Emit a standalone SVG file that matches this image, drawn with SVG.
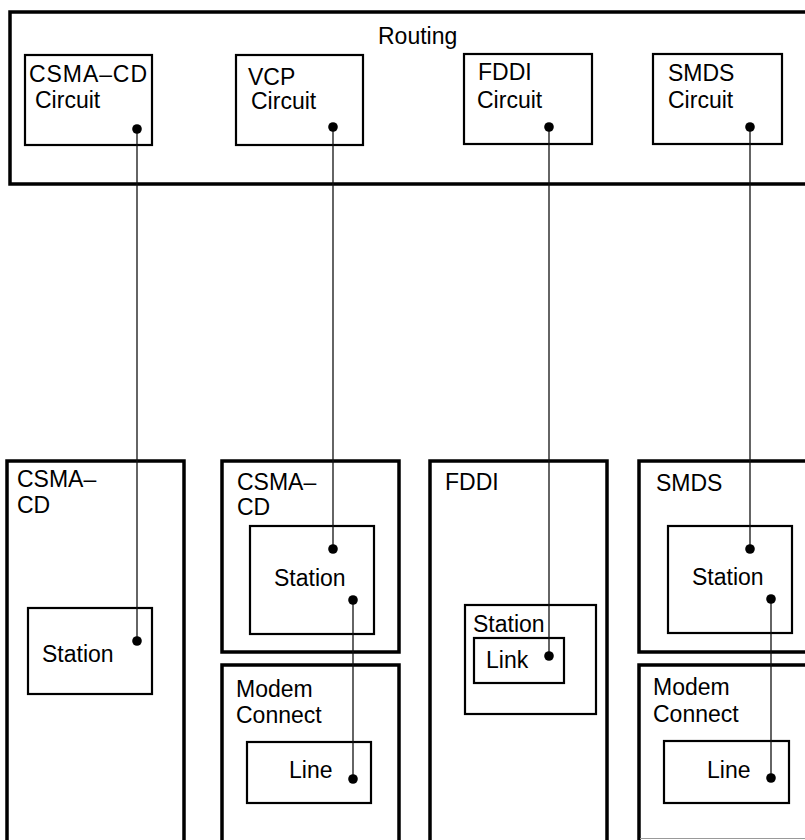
<svg xmlns="http://www.w3.org/2000/svg" width="805" height="840" viewBox="0 0 805 840">
<style>
text{font-family:"Liberation Sans",Arial,sans-serif;font-size:23px;fill:#000}
.outer{fill:none;stroke:#000;stroke-width:3.5}
.inner{fill:none;stroke:#000;stroke-width:2.2}
.wire{fill:none;stroke:#111;stroke-width:1.3}
.dot{fill:#000}
</style>
<rect width="805" height="840" fill="#fff"/>
<g id="routing">
<rect class="outer" x="10" y="12" width="810" height="172"/>
<text x="378" y="44">Routing</text>
</g>
<g id="csmacd-circuit">
<rect class="inner" x="25" y="55" width="127" height="90"/>
<text x="29" y="82" textLength="118" lengthAdjust="spacing">CSMA–CD</text>
<text x="35" y="108">Circuit</text>
</g>
<g id="vcp-circuit">
<rect class="inner" x="236" y="55" width="127" height="90"/>
<text x="248" y="85">VCP</text>
<text x="251" y="109">Circuit</text>
</g>
<g id="fddi-circuit">
<rect class="inner" x="464" y="54" width="128" height="90"/>
<text x="478" y="80">FDDI</text>
<text x="477" y="108">Circuit</text>
</g>
<g id="smds-circuit">
<rect class="inner" x="653" y="54" width="129" height="90"/>
<text x="668" y="81">SMDS</text>
<text x="668" y="108">Circuit</text>
</g>
<g id="csmacd-col">
<rect class="outer" x="7" y="461" width="177" height="400"/>
<text x="17" y="487">CSMA–</text>
<text x="17" y="513">CD</text>
</g>
<g id="csmacd-station">
<rect class="inner" x="28" y="608" width="124" height="86"/>
<text x="42" y="662">Station</text>
</g>
<g id="vcp-csmacd">
<rect class="outer" x="222" y="461" width="177" height="191"/>
<text x="237" y="490">CSMA–</text>
<text x="237" y="515">CD</text>
</g>
<g id="vcp-station">
<rect class="inner" x="250" y="526" width="124" height="108"/>
<text x="274" y="586">Station</text>
</g>
<g id="vcp-modem">
<rect class="outer" x="222" y="665" width="177" height="200"/>
<text x="236" y="697">Modem</text>
<text x="236" y="723">Connect</text>
</g>
<g id="vcp-line">
<rect class="inner" x="247" y="742" width="124" height="61"/>
<text x="289" y="778">Line</text>
</g>
<g id="fddi-col">
<rect class="outer" x="430" y="461" width="177" height="400"/>
<text x="445" y="490">FDDI</text>
</g>
<g id="fddi-station">
<rect class="inner" x="465" y="605" width="131" height="109"/>
<text x="473" y="632">Station</text>
</g>
<g id="fddi-link">
<rect class="inner" x="474" y="638" width="90" height="45"/>
<text x="486" y="668">Link</text>
</g>
<g id="smds-col">
<rect class="outer" x="639" y="461" width="180" height="191"/>
<text x="656" y="491">SMDS</text>
</g>
<g id="smds-station">
<rect class="inner" x="668" y="526" width="124" height="107"/>
<text x="692" y="585">Station</text>
</g>
<g id="smds-modem">
<rect class="outer" x="639" y="665" width="180" height="200"/>
<line x1="640" y1="838.5" x2="805" y2="838.5" stroke="#999" stroke-width="1"/>
<text x="653" y="695">Modem</text>
<text x="653" y="722">Connect</text>
</g>
<g id="smds-line">
<rect class="inner" x="664" y="741" width="125" height="62"/>
<text x="707" y="778">Line</text>
</g>
<g id="connectors">
<line class="wire" x1="137" y1="129" x2="137" y2="641"/>
<line class="wire" x1="333" y1="127" x2="333" y2="549"/>
<line class="wire" x1="549" y1="127" x2="549" y2="656"/>
<line class="wire" x1="750" y1="127" x2="750" y2="549"/>
<line class="wire" x1="353" y1="600" x2="353" y2="779"/>
<line class="wire" x1="771" y1="599" x2="771" y2="778"/>
<circle class="dot" cx="137" cy="129" r="4.8"/>
<circle class="dot" cx="137" cy="641" r="4.8"/>
<circle class="dot" cx="333" cy="127" r="4.8"/>
<circle class="dot" cx="333" cy="549" r="4.8"/>
<circle class="dot" cx="549" cy="127" r="4.8"/>
<circle class="dot" cx="549" cy="656" r="4.8"/>
<circle class="dot" cx="750" cy="127" r="4.8"/>
<circle class="dot" cx="750" cy="549" r="4.8"/>
<circle class="dot" cx="353" cy="600" r="4.8"/>
<circle class="dot" cx="353" cy="779" r="4.8"/>
<circle class="dot" cx="771" cy="599" r="4.8"/>
<circle class="dot" cx="771" cy="778" r="4.8"/>
</g>
</svg>
